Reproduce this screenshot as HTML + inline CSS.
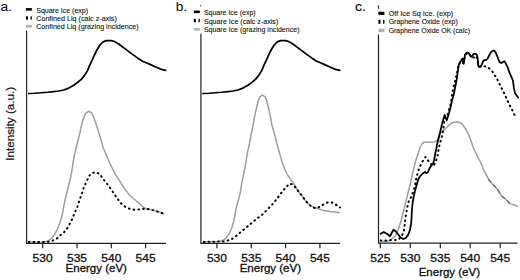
<!DOCTYPE html>
<html><head><meta charset="utf-8"><style>
html,body{margin:0;padding:0;background:#fff;}
body{width:520px;height:280px;overflow:hidden;}
svg{display:block;}
text{font-family:"Liberation Sans",sans-serif;}
</style></head><body>
<svg width="520" height="280" viewBox="0 0 520 280" font-family="Liberation Sans, sans-serif">
<rect width="520" height="280" fill="#fff"/>
<g transform="translate(0.6,10.7) scale(1,1.0)"><text x="0" y="0" font-size="12.8" fill="#000" stroke="#000" stroke-width="0.0" text-anchor="start" textLength="11.5" lengthAdjust="spacingAndGlyphs" >a.</text></g>
<g transform="translate(175.7,10.6) scale(1,1.0)"><text x="0" y="0" font-size="12.8" fill="#000" stroke="#000" stroke-width="0.0" text-anchor="start" textLength="11.5" lengthAdjust="spacingAndGlyphs" >b.</text></g>
<g transform="translate(355.0,10.7) scale(1,1.0)"><text x="0" y="0" font-size="12.8" fill="#000" stroke="#000" stroke-width="0.1" text-anchor="start" textLength="11.0" lengthAdjust="spacingAndGlyphs" >c.</text></g>
<text transform="translate(13.7,160.8) rotate(-90)" x="0" y="0" font-size="10.2" fill="#111" stroke="#111" stroke-width="0.2" textLength="74" lengthAdjust="spacingAndGlyphs">Intensity (a.u.)</text>
<rect x="25.9" y="8.1" width="6" height="2.5" fill="#000"/>
<rect x="25.9" y="16.3" width="2.1" height="3.3000000000000007" fill="#000"/>
<rect x="30.599999999999998" y="16.3" width="1.3" height="3.3000000000000007" fill="#000"/>
<rect x="25.9" y="24.9" width="6" height="2.700000000000003" fill="#b2b2b2"/>
<g transform="translate(36.2,12.5) scale(1,1.1)"><text x="0" y="0" font-size="7.2" fill="#111" stroke="#111" stroke-width="0.1" text-anchor="start" textLength="51.9" lengthAdjust="spacingAndGlyphs" >Square Ice (exp)</text></g>
<g transform="translate(36.2,20.6) scale(1,1.1)"><text x="0" y="0" font-size="7.2" fill="#111" stroke="#111" stroke-width="0.1" text-anchor="start" textLength="80.6" lengthAdjust="spacingAndGlyphs" >Confined Liq (calc z-axis)</text></g>
<g transform="translate(36.2,29.0) scale(1,1.1)"><text x="0" y="0" font-size="7.2" fill="#111" stroke="#111" stroke-width="0.1" text-anchor="start" textLength="102.5" lengthAdjust="spacingAndGlyphs" >Confined Liq (grazing incidence)</text></g>
<rect x="193.8" y="10.6" width="6" height="2.5" fill="#000"/>
<rect x="193.8" y="18.8" width="2.1" height="3.3999999999999986" fill="#000"/>
<rect x="198.5" y="18.8" width="1.3" height="3.3999999999999986" fill="#000"/>
<rect x="193.8" y="28.0" width="6" height="2.6000000000000014" fill="#b2b2b2"/>
<g transform="translate(203.9,15.0) scale(1,1.1)"><text x="0" y="0" font-size="7.2" fill="#111" stroke="#111" stroke-width="0.1" text-anchor="start" textLength="51.7" lengthAdjust="spacingAndGlyphs" >Square Ice (exp)</text></g>
<g transform="translate(203.9,23.7) scale(1,1.1)"><text x="0" y="0" font-size="7.2" fill="#111" stroke="#111" stroke-width="0.1" text-anchor="start" textLength="74.4" lengthAdjust="spacingAndGlyphs" >Square Ice (calc z-axis)</text></g>
<g transform="translate(203.9,31.9) scale(1,1.1)"><text x="0" y="0" font-size="7.2" fill="#111" stroke="#111" stroke-width="0.1" text-anchor="start" textLength="95.6" lengthAdjust="spacingAndGlyphs" >Square Ice (grazing incidence)</text></g>
<rect x="378.4" y="11.7" width="6" height="3.200000000000001" fill="#000"/>
<rect x="378.4" y="19.9" width="2.1" height="3.900000000000002" fill="#000"/>
<rect x="383.09999999999997" y="19.9" width="1.3" height="3.900000000000002" fill="#000"/>
<rect x="378.4" y="28.65" width="6" height="3.450000000000003" fill="#b2b2b2"/>
<g transform="translate(388.7,16.3) scale(1,1.1)"><text x="0" y="0" font-size="7.2" fill="#111" stroke="#111" stroke-width="0.1" text-anchor="start" textLength="64.4" lengthAdjust="spacingAndGlyphs" >Off Ice Sq Ice. (exp)</text></g>
<g transform="translate(388.7,24.4) scale(1,1.1)"><text x="0" y="0" font-size="7.2" fill="#111" stroke="#111" stroke-width="0.1" text-anchor="start" textLength="69" lengthAdjust="spacingAndGlyphs" >Graphene Oxide (exp)</text></g>
<g transform="translate(388.7,32.8) scale(1,1.1)"><text x="0" y="0" font-size="7.2" fill="#111" stroke="#111" stroke-width="0.1" text-anchor="start" textLength="81.3" lengthAdjust="spacingAndGlyphs" >Graphene Oxide OK (calc)</text></g>
<path d="M26.6 30.8 V243.4 H166" stroke="#222" stroke-width="1.2" fill="none"/>
<path d="M200.9 33.7 V243.4 H340" stroke="#222" stroke-width="1.2" fill="none"/>
<path d="M378.5 34.6 V243.2 H517.5" stroke="#222" stroke-width="1.2" fill="none"/>
<rect x="200.1" y="5" width="1.1" height="1.3" fill="#555"/>
<rect x="377.9" y="5.4" width="1.2" height="3.4" fill="#333"/>
<line x1="42.6" y1="243" x2="42.6" y2="248.3" stroke="#222" stroke-width="1.2"/>
<g transform="translate(42.6,261.6) scale(1,1.0)"><text x="0" y="0" font-size="11.2" fill="#111" stroke="#111" stroke-width="0.3" text-anchor="middle" textLength="20" lengthAdjust="spacingAndGlyphs" >530</text></g>
<line x1="77.0" y1="243" x2="77.0" y2="248.3" stroke="#222" stroke-width="1.2"/>
<g transform="translate(77.0,261.6) scale(1,1.0)"><text x="0" y="0" font-size="11.2" fill="#111" stroke="#111" stroke-width="0.3" text-anchor="middle" textLength="20" lengthAdjust="spacingAndGlyphs" >535</text></g>
<line x1="111.3" y1="243" x2="111.3" y2="248.3" stroke="#222" stroke-width="1.2"/>
<g transform="translate(111.3,261.6) scale(1,1.0)"><text x="0" y="0" font-size="11.2" fill="#111" stroke="#111" stroke-width="0.3" text-anchor="middle" textLength="20" lengthAdjust="spacingAndGlyphs" >540</text></g>
<line x1="145.6" y1="243" x2="145.6" y2="248.3" stroke="#222" stroke-width="1.2"/>
<g transform="translate(145.6,261.6) scale(1,1.0)"><text x="0" y="0" font-size="11.2" fill="#111" stroke="#111" stroke-width="0.3" text-anchor="middle" textLength="20" lengthAdjust="spacingAndGlyphs" >545</text></g>
<line x1="216.9" y1="243" x2="216.9" y2="248.3" stroke="#222" stroke-width="1.2"/>
<g transform="translate(216.9,261.6) scale(1,1.0)"><text x="0" y="0" font-size="11.2" fill="#111" stroke="#111" stroke-width="0.3" text-anchor="middle" textLength="20" lengthAdjust="spacingAndGlyphs" >530</text></g>
<line x1="251.3" y1="243" x2="251.3" y2="248.3" stroke="#222" stroke-width="1.2"/>
<g transform="translate(251.3,261.6) scale(1,1.0)"><text x="0" y="0" font-size="11.2" fill="#111" stroke="#111" stroke-width="0.3" text-anchor="middle" textLength="20" lengthAdjust="spacingAndGlyphs" >535</text></g>
<line x1="285.6" y1="243" x2="285.6" y2="248.3" stroke="#222" stroke-width="1.2"/>
<g transform="translate(285.6,261.6) scale(1,1.0)"><text x="0" y="0" font-size="11.2" fill="#111" stroke="#111" stroke-width="0.3" text-anchor="middle" textLength="20" lengthAdjust="spacingAndGlyphs" >540</text></g>
<line x1="319.9" y1="243" x2="319.9" y2="248.3" stroke="#222" stroke-width="1.2"/>
<g transform="translate(319.9,261.6) scale(1,1.0)"><text x="0" y="0" font-size="11.2" fill="#111" stroke="#111" stroke-width="0.3" text-anchor="middle" textLength="20" lengthAdjust="spacingAndGlyphs" >545</text></g>
<line x1="380.3" y1="243" x2="380.3" y2="248.3" stroke="#222" stroke-width="1.2"/>
<g transform="translate(380.3,261.6) scale(1,1.0)"><text x="0" y="0" font-size="11.2" fill="#111" stroke="#111" stroke-width="0.3" text-anchor="middle" textLength="20" lengthAdjust="spacingAndGlyphs" >525</text></g>
<line x1="410.3" y1="243" x2="410.3" y2="248.3" stroke="#222" stroke-width="1.2"/>
<g transform="translate(410.3,261.6) scale(1,1.0)"><text x="0" y="0" font-size="11.2" fill="#111" stroke="#111" stroke-width="0.3" text-anchor="middle" textLength="20" lengthAdjust="spacingAndGlyphs" >530</text></g>
<line x1="440.3" y1="243" x2="440.3" y2="248.3" stroke="#222" stroke-width="1.2"/>
<g transform="translate(440.3,261.6) scale(1,1.0)"><text x="0" y="0" font-size="11.2" fill="#111" stroke="#111" stroke-width="0.3" text-anchor="middle" textLength="20" lengthAdjust="spacingAndGlyphs" >535</text></g>
<line x1="470.2" y1="243" x2="470.2" y2="248.3" stroke="#222" stroke-width="1.2"/>
<g transform="translate(470.2,261.6) scale(1,1.0)"><text x="0" y="0" font-size="11.2" fill="#111" stroke="#111" stroke-width="0.3" text-anchor="middle" textLength="20" lengthAdjust="spacingAndGlyphs" >540</text></g>
<line x1="500.2" y1="243" x2="500.2" y2="248.3" stroke="#222" stroke-width="1.2"/>
<g transform="translate(500.2,261.6) scale(1,1.0)"><text x="0" y="0" font-size="11.2" fill="#111" stroke="#111" stroke-width="0.3" text-anchor="middle" textLength="20" lengthAdjust="spacingAndGlyphs" >545</text></g>
<g transform="translate(65.6,271.9) scale(1,1.0)"><text x="0" y="0" font-size="10.4" fill="#111" stroke="#111" stroke-width="0.3" text-anchor="start" textLength="61.3" lengthAdjust="spacingAndGlyphs" >Energy (eV)</text></g>
<g transform="translate(239.7,271.9) scale(1,1.0)"><text x="0" y="0" font-size="10.4" fill="#111" stroke="#111" stroke-width="0.3" text-anchor="start" textLength="61.3" lengthAdjust="spacingAndGlyphs" >Energy (eV)</text></g>
<g transform="translate(418.7,275.6) scale(1,1.0)"><text x="0" y="0" font-size="10.4" fill="#111" stroke="#111" stroke-width="0.3" text-anchor="start" textLength="61.3" lengthAdjust="spacingAndGlyphs" >Energy (eV)</text></g>
<polyline points="28.75,242.25 45.00,241.90 48.75,240.60 51.90,238.10 55.00,233.75 57.50,228.75 60.00,222.50 61.90,216.25 63.10,210.00 64.40,203.10 66.25,195.00 68.75,185.00 71.50,173.50 73.10,162.50 74.40,155.00 76.25,147.50 78.10,140.00 80.00,132.50 81.25,126.25 82.50,121.25 83.75,117.50 85.60,113.10 88.75,111.25 91.90,113.10 93.75,117.50 95.60,122.50 97.25,127.50 98.75,132.50 100.60,138.75 103.10,147.50 106.25,155.00 110.00,163.75 114.40,172.50 115.60,175.00 118.75,179.40 121.90,184.40 125.00,189.40 129.40,195.00 133.75,198.75 138.75,203.10 143.75,207.50 145.60,208.50 150.00,209.40 154.40,210.60 158.75,211.90 163.10,213.50 164.40,213.75" fill="none" stroke="#9e9e9e" stroke-width="1.5" stroke-linejoin="round"/>
<polyline points="203.75,241.90 218.75,241.50 222.50,240.60 226.25,238.10 229.40,233.10 231.90,227.50 233.75,221.25 235.00,215.00 236.25,207.50 238.75,198.75 240.60,191.00 241.90,182.50 243.50,175.00 245.00,167.50 246.25,160.00 247.50,152.50 249.40,143.75 251.25,133.75 253.10,125.00 254.40,117.50 255.60,111.90 256.90,106.25 258.10,101.25 260.00,96.90 262.50,95.00 265.00,96.90 266.90,101.25 268.10,106.25 269.40,111.90 270.60,117.50 271.90,125.00 274.40,133.75 276.90,143.75 279.40,152.50 281.25,159.40 285.00,170.00 287.50,175.00 290.60,179.40 293.75,183.75 296.25,188.00 298.75,191.90 301.90,195.60 305.00,200.00 308.10,203.50 311.25,206.00 313.75,207.20 318.75,208.75 323.75,210.60 330.00,211.50 335.00,211.90 340.00,212.75" fill="none" stroke="#9e9e9e" stroke-width="1.5" stroke-linejoin="round"/>
<polyline points="380.00,241.50 387.50,241.25 391.25,239.40 395.00,236.25 397.50,231.25 399.40,226.25 401.25,220.00 402.50,215.00 404.40,207.50 406.25,200.00 408.10,192.50 410.00,185.00 411.90,176.25 413.75,168.75 415.30,162.00 416.25,159.00 418.10,153.75 420.00,147.50 421.90,143.75 424.40,142.25 430.00,142.25 434.40,141.90 436.90,140.60 438.10,138.75 440.00,133.75 442.50,130.60 444.60,129.50 448.90,125.20 453.10,122.50 457.40,122.00 461.00,123.00 463.75,126.25 466.25,130.00 468.75,135.00 470.30,139.00 473.75,148.75 477.50,156.25 481.25,163.75 483.75,170.00 487.10,176.40 489.30,180.70 493.60,185.00 497.90,190.00 501.40,195.70 505.70,199.30 510.00,203.60 514.30,205.00 517.90,206.40" fill="none" stroke="#9e9e9e" stroke-width="1.5" stroke-linejoin="round"/>
<polyline points="488.5,179.5 493.6,185 497.9,190 501.4,195.7 505.7,199.3 510,203.6" fill="none" stroke="#666" stroke-width="1.2" stroke-dasharray="4 3"/>
<polyline points="28.75,242.00 45.00,242.00 47.50,241.90 50.60,241.25 54.40,240.00 57.50,238.10 60.00,235.60 63.10,233.10 66.25,230.00 68.75,225.60 71.25,221.25 73.10,216.90 75.00,211.90 76.90,208.10 78.50,203.10 80.00,198.75 81.90,193.75 83.10,189.40 85.00,185.00 86.90,180.60 89.40,175.60 91.90,173.10 96.25,172.25 100.00,174.40 102.50,178.10 105.00,181.25 107.50,184.40 110.00,187.80 112.50,191.50 115.00,195.00 117.50,198.75 120.00,202.00 122.50,204.90 126.25,207.40 130.30,209.00 135.00,209.80 140.00,209.40 145.00,208.60 150.00,209.40 154.40,210.60 158.75,211.90 163.10,213.50 164.40,213.75" fill="none" stroke="#000" stroke-width="2" stroke-dasharray="0.7 4.1" stroke-linecap="round" stroke-linejoin="round"/>
<polyline points="203.75,241.90 223.75,241.50 227.50,240.60 231.25,239.40 235.00,236.90 238.75,233.75 242.50,230.60 246.25,227.50 250.00,224.40 253.75,221.25 257.50,218.10 261.25,215.60 264.40,212.50 267.50,209.40 271.25,205.60 275.00,201.25 278.75,196.25 282.50,191.25 286.25,186.90 289.40,183.75 292.50,184.40 295.60,187.50 298.75,191.90 301.90,195.60 305.00,200.00 308.10,203.75 311.90,206.90 315.60,208.30 319.40,206.90 323.75,204.20 327.50,202.50 331.90,202.50 335.60,204.40 340.00,207.50" fill="none" stroke="#000" stroke-width="2" stroke-dasharray="0.7 4.1" stroke-linecap="round" stroke-linejoin="round"/>
<polyline points="380.60,240.60 386.90,240.60 391.25,240.00 397.50,240.00 399.50,238.50 401.90,235.60 403.75,231.90 404.40,227.50 405.00,222.00 405.60,216.50 406.50,211.50 407.50,206.25 408.75,201.25 411.25,196.90 413.30,191.25 414.90,186.50 415.60,181.25 416.90,176.25 418.10,171.25 420.00,166.25 422.50,161.50 425.60,157.00 428.10,160.60 431.00,164.00 433.75,166.00 435.20,162.50 436.25,160.00 437.50,156.00 438.50,150.00 439.40,145.60 440.60,141.25 441.90,136.25 443.10,131.00 443.80,124.00 445.30,117.00 447.40,115.50 448.90,110.20 450.50,104.80 451.60,98.00 453.10,88.75 454.40,83.75 455.60,78.75 456.90,73.75 458.10,67.50 459.50,63.50 461.50,59.50 462.50,59.00 463.30,63.30 464.40,59.00 465.20,54.80 467.50,53.00 469.50,54.50 471.30,57.20 473.75,57.50 475.60,56.00 477.00,58.00 478.20,64.00 480.00,66.50 483.00,65.80 486.25,66.90 488.75,68.00 491.90,70.80 494.60,75.00 496.80,78.50 498.90,82.50 501.25,87.50 503.20,91.10 506.30,98.00 509.60,105.00 512.50,110.50 515.00,116.00 516.25,117.80" fill="none" stroke="#000" stroke-width="2" stroke-dasharray="0.7 4.1" stroke-linecap="round" stroke-linejoin="round"/>
<polyline points="28.75,93.50 35.00,93.25 41.25,92.75 47.50,92.25 53.75,91.60 58.75,91.00 63.75,90.00 68.75,88.10 73.75,85.25 77.50,82.50 81.25,79.40 84.40,75.60 87.50,70.60 90.00,64.60 92.50,59.40 94.40,55.00 96.90,50.00 100.00,45.00 103.10,41.90 106.25,40.60 111.25,40.60 114.40,41.50 118.75,44.00 122.50,46.90 127.50,50.60 132.50,54.40 137.50,57.90 142.50,61.20 147.50,63.20 150.00,64.40 156.25,67.25 161.25,69.40 165.60,70.40" fill="none" stroke="#000" stroke-width="1.75" stroke-linejoin="round" stroke-linecap="round"/>
<polyline points="202.95,93.50 209.20,93.25 215.45,92.75 221.70,92.25 227.95,91.60 232.95,91.00 237.95,90.00 242.95,88.10 247.95,85.25 251.70,82.50 255.45,79.40 258.60,75.60 261.70,70.60 264.20,64.60 266.70,59.40 268.60,55.00 271.10,50.00 274.20,45.00 277.30,41.90 280.45,40.60 285.45,40.60 288.60,41.50 292.95,44.00 296.70,46.90 301.70,50.60 306.70,54.40 311.70,57.90 316.70,61.20 321.70,63.20 324.20,64.40 330.45,67.25 335.45,69.40 339.80,70.40" fill="none" stroke="#000" stroke-width="1.75" stroke-linejoin="round" stroke-linecap="round"/>
<polyline points="380.60,233.75 383.75,231.90 386.90,233.75 390.00,236.25 391.90,232.50 393.50,229.75 395.60,231.25 398.10,234.40 400.60,237.50 403.10,239.00 405.60,238.10 408.10,235.00 410.00,230.00 411.25,222.50 411.60,217.00 411.90,210.00 412.50,204.00 413.50,197.50 415.00,191.00 416.50,185.50 418.10,180.00 420.00,176.25 422.50,173.75 425.00,171.90 426.25,173.10 427.75,172.50 429.40,168.75 431.25,165.60 433.10,163.75 434.10,160.00 435.00,155.00 436.30,148.75 437.20,143.75 438.20,140.00 439.90,133.00 442.40,122.50 444.60,115.00 446.70,120.40 449.00,113.00 450.60,107.00 452.10,100.00 453.40,96.00 454.40,91.25 455.60,85.00 456.90,78.50 457.80,71.00 458.75,65.00 460.00,62.50 461.90,59.40 462.50,58.75 463.10,63.10 463.75,63.75 464.40,58.75 465.00,54.40 466.25,53.10 467.50,52.50 468.75,53.10 470.00,54.75 471.25,56.90 472.50,55.60 473.75,53.75 475.60,53.75 476.90,55.00 477.75,58.75 478.10,65.00 478.75,66.90 480.60,66.90 481.90,64.40 483.10,61.25 484.40,60.00 486.25,60.00 487.50,58.75 489.40,55.00 491.25,51.90 493.10,50.60 494.40,50.60 495.60,52.50 497.50,56.90 499.40,61.90 501.25,63.10 503.10,61.90 504.40,61.25 505.60,63.10 507.50,66.90 509.60,72.90 512.90,80.40 513.90,87.90 515.00,93.20 518.20,97.50" fill="none" stroke="#000" stroke-width="1.75" stroke-linejoin="round" stroke-linecap="round"/>
</svg>
</body></html>
